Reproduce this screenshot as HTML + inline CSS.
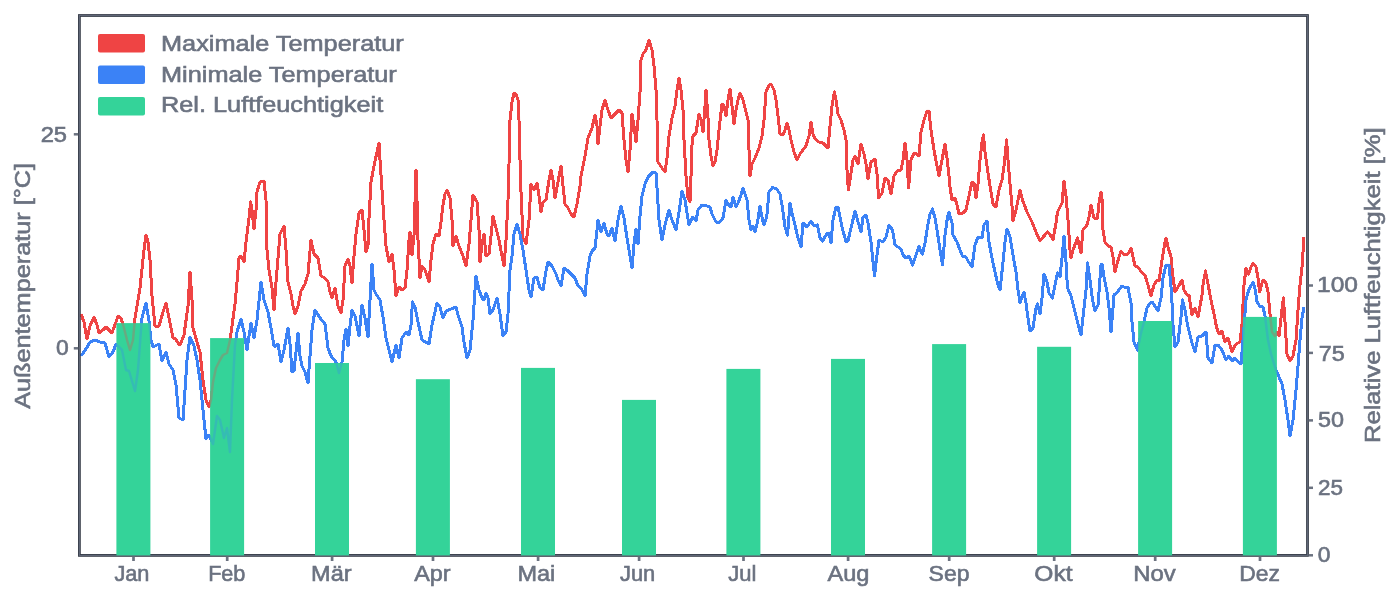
<!DOCTYPE html>
<html><head><meta charset="utf-8"><style>
html,body{margin:0;padding:0;background:#fff;width:1400px;height:600px;overflow:hidden}
svg{display:block;will-change:transform}
.t{font-family:"Liberation Sans", sans-serif;font-size:22px;fill:#6b7280;stroke:#6b7280;stroke-width:0.6px}
</style></head><body>
<svg width="1400" height="600" viewBox="0 0 1400 600">
<rect x="0" y="0" width="1400" height="600" fill="#ffffff"/>
<g fill="none" stroke-linejoin="round" stroke-width="3.0" shape-rendering="crispEdges"><polyline points="81,314 84,322 87,339 90,326 94,317 97,325 99,333 103,330 106,327 109,330 112,333 116,322 118,316 121,318 124,328 127,340 130,350 133,340 135,318 140,288 144,250 146,235 148,242 150,260 152,296 155,326 159,326 163,312 166,303 169,318 173,338 175,338 178,343 180,345 184,335 188,306 190,272 192,300 193,328 197,342 200,352 203,380 206,400 209,407 211,400 213,382 216,368 220,360 223,355 227,353 230,340 232,326 235,304 237,282 239,258 241,256 244,262 246,242 249,218 250.6,202 252,210 254,229 256,210 257,192 260,182 264,181 266,200 267,250 269,270 272,288 274,310 276,282 277,270 280,234 284,226 286,250 288,282 291,294 293,306 295,314 298,306 301,291 305,284 308,274 311,240 314,254 318,258 321,276 325,278 328,282 330,292 332,298 335,288 338,306 341,313 343,300 345,266 348,259 350,266 352,283 354,256 356,234 359,213 362,210 364,230 366,252 368,246 369,218 371,182 374,166 377,152 379,143 380,160 382,190 384,220 386,246 389,262 392,254 394,270 396,296 399,287 402,290 405,288 407,270 409,240 410,232 412,255 414,236 416,170 417,200 418,240 420,278 422,266 425,270 429,282 431,260 433,244 436,234 439,236 441,222 443,205 445,194 447,190 450,198 452,220 453,246 456,236 459,246 463,256 466,266 469,244 471,220 473,195 477,202 479,230 480,262 482,244 484,234 486,256 489,254 491,236 493,216 496,228 499,240 502,256 504,266 506,240 508,200 509,164 510,120 512,102 514,93 516,94 518,100 519,120 520,160 521,192 523,238 526,244 529,220 531,184 534,190 537,183 539,196 541,212 543,202 546,200 549,180 551,170 553,180 555,198 558,182 561,166 563,186 565,204 568,208 571,214 574,217 577,204 580,186 581,176 585,156 588,138 592,128 595,115 597,126 598,144 600,126 602,110 605,100 608,110 611,118 615,114 619,110 622,113 624,140 626,160 628,172 630,150 632,114 634,126 636,142 638,120 640,92 641,60 643,54 646,50 649,40 652,50 654,66 656,90 657,120 658,162 662,168 665,172 667,158 669,136 672,118 675,106 677,90 679,78 681,90 683,110 684,140 686,176 688,198 690,202 691,176 692,145 693,136 696,133 699,114 701,120 703,132 705,106 706,90 708,118 709,140 711,156 713,166 715,162 717,150 719,130 722,104 724,106 726,116 728,100 730,89 732,106 734,124 736,110 738,100 740,93 743,100 746,112 748,120 749,150 750,176 752,164 755,158 759,148 762,136 764,120 766,92 769,85 771,84 774,90 776,100 778,116 780,134 783,135 785,130 787,123 789,130 791,140 794,152 797,160 800,154 803,150 806,146 809,136 811,122 813,134 815,139 819,142 823,143 826,146 828,148 830,126 832,106 834.4,92 836,100 838,114 841,120 844,130 846,140 847,170 848.4,190 850,180 853,160 855,156 858,164 861,144 864,154 866,164 868,179 871,162 875,159 877,174 878.6,198 882,193 885,178 888,180 891,194 894,176 897,171 901,170 903,160 905,143 907,160 908.6,188 911,160 914,153 917,154 919,156 921,132 924,120 927,111 929,111 931,130 934,150 937,166 939,176 942,160 945,144 947,158 949,176 950,187 952,200 955,198 957,205 959,214 963,213 966,210 969,196 972,182 974,183 976,198 978,184 980,160 982,142 983.4,135 985,152 987,166 990,186 993,204 996,207 999,190 1002,180 1004,166 1006.6,140 1008,160 1010,184 1012,206 1013,221 1016,210 1018,200 1020,190 1022.5,200 1027,212 1032,222 1036,232 1040,241 1044,236 1047.5,232 1051,236 1053,240 1056,223 1057.5,212 1062,203 1064,181 1066,196 1068,220 1070,250 1071,258 1073,250 1077.5,238 1081,253 1083,230 1087,225 1089,217 1091,205 1094,218 1097.5,218 1099,203 1101,192 1102.5,203 1103,230 1105,242 1108,246 1111,247 1113,257 1115,272 1117.5,262 1121,251 1124,255 1128,254 1131,248 1133,257 1135,266 1138,267 1142,273 1145,275 1148,285 1151,296 1154,285 1157,280 1159,281 1162,260 1165,242 1166,238 1168,247 1171,257 1172.5,273 1175,292 1178,287 1182,280 1184,290 1187,295 1189,295 1192,315 1195,308 1198,317 1202,295 1203,285 1205.5,271 1208,284 1211,300 1214,314 1216.5,327 1219,334 1222,331 1225,342 1228,338 1232,352 1235,345 1238,343 1240,342 1242,324 1244,285 1246,268.5 1248.6,274 1251,267 1253,263 1256,267 1258,278 1259.6,292 1261.4,285 1263,280 1266,283 1268,292 1269.7,311 1272,332 1275,336 1277,332 1279,336 1281,318 1283.4,298 1285,322 1287,354 1290,361 1293,356 1296,340 1298,310 1300,285 1302,267 1304,237" stroke="#ef4444"/><polyline points="81,356 86,349 90,342 95,340 100,342 105,343 109,357 113,352 116,344 122,350 126,370 129,371 135,391 138,370 141,330 142,318 146,303 149,321 151,340 153,347 159,344 162,361 166,352 169,364 173,370 176,385 179,418 183,420 185,390 187,360 190,337 194,346 197,360 200,380 203,410 206,439 209,435 213,444 217,416 220,420 224,438 227,428 230,452 232,400 235,345 237,332 241,319 244,332 247,350 251,323 254,338 257,320 261,282 264,300 268,312 271,328 274,346 276,346 278,344 281,362 284,350 288,328 290,344 292,372 294,371 296,352 298,333 300,356 302,366 305,372 308,383 310,356 312,330 315,310 320,318 325,324 328,348 331,356 336,362 339,373 342,362 344,340 346,329 348,346 350,326 352,310 355,316 359,336 362,305 365,318 368,337 370,300 372,264 374,290 376,294 380,300 383,317 386,338 389,350 392,362 396,345 399,358 402,338 406,332 409,335 411,325 412.5,302 415,307 418,322 422,340 429,344 432,325 437,303 440,307 443,318 446,311 451,309 456,307 458,315 462,327 464,342 467,358 470,350 473,320 476,276 479,290 482,298 484,300 486,293 488,298 490,314 493,310 497,298 500,314 503,336 506,332 508,314 510,270 512,256 514,234 517,224 520,234 523,250 526,270 529,290 531,297 534,278 537,277 540,288 543,290 546,271 548,262 552,266 556,274 558,280 561,286 564,268 567,270 571,274 575,278 578,286 581,288 585,296 587,274 590,256 592,251 595,248 597,230 598,220 601,232 604,223 607,234 609,236 612,228 615,241 618,220 621,206 624,218 627,238 630,256 632,268 634,244 636,229 638,244 640,216 642,196 645,184 648,177 653,172 656,173 657.5,195 659,220 662,240 665,225 669,210 672,220 676,230 679,212 682,191 685,200 687,213 689,225 692,218 693,217 696,221 698,210 702,205 707,206 710,207 712,214 716,222 720,222 723,218 726,200 728,204 731,207 733,197 736,207 738,203 741,195 743,188 747,200 749,220 751,230 753,226 755,232 757.5,222 760,206 762.5,220 764,225 766.7,217 769,192 772.5,187.5 776.7,189 780,194 782.5,208 785,227 787.5,235 790,203 792.5,215 795,225 798,238 801,247 803,223 807,227 811,221 814,226 817.5,225 820,238 822.5,241 826.7,234 829,233 831,243 833,220 836,207 838,207 840,217 842.5,229 846,242 848,241 851,228 855,211 857.5,220 861,232 863,217 866,215 868,223 871,242 874.5,276 877,255 879,240 883,242 886,237 889,225 892.5,230 895,245 898,247 901,249 903,255 906,258 909,256 912.5,265 916,255 919,246 921,252 922.5,254 925,243 927.5,227 930,214 932.5,209 935,218 937.5,233 940,250 942.5,265 945,235 947.5,217 949,212 952,223 953,235 957,242 960,250 962.5,256 966,257 968,261 972,267 975,245 978,237 982,238 984,225 987,221 989,242 992,258 995,272 997.5,283 1000,290 1002.5,267 1005,242 1007,229 1010,237 1013,255 1016,272 1018,290 1020,302.5 1022.5,295 1024,292.5 1026,303 1028,318 1030,331 1033,328 1036,308 1037.5,304 1040,314 1042,298 1044,274 1047,282 1049,293 1052.5,298 1055,285 1057.5,273 1060,277 1062,258 1064,236 1066,262 1067.5,288 1071,296 1074,308 1077.5,322 1081,335 1083,317 1086,290 1087.5,263 1090,280 1092.5,300 1095,311 1098,305 1101,265 1102,264 1104,277 1107,292 1109,308 1111,332 1113,308 1114,295 1117.5,292 1122,286 1125,287.5 1128,287.5 1131,303 1132,322 1134,342 1137.5,350 1141,333 1144,322 1147,308 1150,303 1152.5,302.5 1156,308 1158,311 1161,298 1163,278 1166,265 1169,265 1171,287 1172.5,310 1173,325 1175,347 1178,342 1181,317 1182.5,300 1185,310 1187.5,325 1192,343 1195,352 1198,337 1202,336 1206,332 1208,358 1212,363 1215,345 1218,345 1222,350 1226,360 1229,356 1232,361 1235,358 1238,362 1241,364 1243,340 1246,300 1248.6,290.5 1253,282 1255,289 1257,301.5 1259.6,306 1263,307 1265,316 1268,340 1271,354 1276,370 1279,377 1282,384 1285,400 1288,420 1290,436 1293,420 1296,390 1298,366 1300,340 1302,318 1304,307" stroke="#3b82f6"/></g>
<rect x="79.4" y="15.5" width="1228.1" height="539.9" fill="none" stroke="#2c323e" stroke-width="2.7"/>
<rect x="79.4" y="15.5" width="1228.1" height="539.9" fill="none" stroke="#5f6676" stroke-width="1.2"/>
<rect x="116.40" y="323.1" width="34.0" height="232.3" fill="#34d399"/>
<rect x="210.10" y="338.1" width="34.0" height="217.3" fill="#34d399"/>
<rect x="315.00" y="363.0" width="34.0" height="192.4" fill="#34d399"/>
<rect x="415.90" y="379.2" width="34.0" height="176.2" fill="#34d399"/>
<rect x="521.00" y="367.9" width="34.0" height="187.5" fill="#34d399"/>
<rect x="622.00" y="399.9" width="34.0" height="155.5" fill="#34d399"/>
<rect x="726.40" y="368.9" width="34.0" height="186.5" fill="#34d399"/>
<rect x="831.00" y="358.9" width="34.0" height="196.5" fill="#34d399"/>
<rect x="932.10" y="344.1" width="34.0" height="211.3" fill="#34d399"/>
<rect x="1037.10" y="346.8" width="34.0" height="208.6" fill="#34d399"/>
<rect x="1138.10" y="321.0" width="34.0" height="234.4" fill="#34d399"/>
<rect x="1242.90" y="316.9" width="34.0" height="238.5" fill="#34d399"/>
<g opacity="0.28" fill="none" stroke-linejoin="round" stroke-width="2.5"><polyline points="81,314 84,322 87,339 90,326 94,317 97,325 99,333 103,330 106,327 109,330 112,333 116,322 118,316 121,318 124,328 127,340 130,350 133,340 135,318 140,288 144,250 146,235 148,242 150,260 152,296 155,326 159,326 163,312 166,303 169,318 173,338 175,338 178,343 180,345 184,335 188,306 190,272 192,300 193,328 197,342 200,352 203,380 206,400 209,407 211,400 213,382 216,368 220,360 223,355 227,353 230,340 232,326 235,304 237,282 239,258 241,256 244,262 246,242 249,218 250.6,202 252,210 254,229 256,210 257,192 260,182 264,181 266,200 267,250 269,270 272,288 274,310 276,282 277,270 280,234 284,226 286,250 288,282 291,294 293,306 295,314 298,306 301,291 305,284 308,274 311,240 314,254 318,258 321,276 325,278 328,282 330,292 332,298 335,288 338,306 341,313 343,300 345,266 348,259 350,266 352,283 354,256 356,234 359,213 362,210 364,230 366,252 368,246 369,218 371,182 374,166 377,152 379,143 380,160 382,190 384,220 386,246 389,262 392,254 394,270 396,296 399,287 402,290 405,288 407,270 409,240 410,232 412,255 414,236 416,170 417,200 418,240 420,278 422,266 425,270 429,282 431,260 433,244 436,234 439,236 441,222 443,205 445,194 447,190 450,198 452,220 453,246 456,236 459,246 463,256 466,266 469,244 471,220 473,195 477,202 479,230 480,262 482,244 484,234 486,256 489,254 491,236 493,216 496,228 499,240 502,256 504,266 506,240 508,200 509,164 510,120 512,102 514,93 516,94 518,100 519,120 520,160 521,192 523,238 526,244 529,220 531,184 534,190 537,183 539,196 541,212 543,202 546,200 549,180 551,170 553,180 555,198 558,182 561,166 563,186 565,204 568,208 571,214 574,217 577,204 580,186 581,176 585,156 588,138 592,128 595,115 597,126 598,144 600,126 602,110 605,100 608,110 611,118 615,114 619,110 622,113 624,140 626,160 628,172 630,150 632,114 634,126 636,142 638,120 640,92 641,60 643,54 646,50 649,40 652,50 654,66 656,90 657,120 658,162 662,168 665,172 667,158 669,136 672,118 675,106 677,90 679,78 681,90 683,110 684,140 686,176 688,198 690,202 691,176 692,145 693,136 696,133 699,114 701,120 703,132 705,106 706,90 708,118 709,140 711,156 713,166 715,162 717,150 719,130 722,104 724,106 726,116 728,100 730,89 732,106 734,124 736,110 738,100 740,93 743,100 746,112 748,120 749,150 750,176 752,164 755,158 759,148 762,136 764,120 766,92 769,85 771,84 774,90 776,100 778,116 780,134 783,135 785,130 787,123 789,130 791,140 794,152 797,160 800,154 803,150 806,146 809,136 811,122 813,134 815,139 819,142 823,143 826,146 828,148 830,126 832,106 834.4,92 836,100 838,114 841,120 844,130 846,140 847,170 848.4,190 850,180 853,160 855,156 858,164 861,144 864,154 866,164 868,179 871,162 875,159 877,174 878.6,198 882,193 885,178 888,180 891,194 894,176 897,171 901,170 903,160 905,143 907,160 908.6,188 911,160 914,153 917,154 919,156 921,132 924,120 927,111 929,111 931,130 934,150 937,166 939,176 942,160 945,144 947,158 949,176 950,187 952,200 955,198 957,205 959,214 963,213 966,210 969,196 972,182 974,183 976,198 978,184 980,160 982,142 983.4,135 985,152 987,166 990,186 993,204 996,207 999,190 1002,180 1004,166 1006.6,140 1008,160 1010,184 1012,206 1013,221 1016,210 1018,200 1020,190 1022.5,200 1027,212 1032,222 1036,232 1040,241 1044,236 1047.5,232 1051,236 1053,240 1056,223 1057.5,212 1062,203 1064,181 1066,196 1068,220 1070,250 1071,258 1073,250 1077.5,238 1081,253 1083,230 1087,225 1089,217 1091,205 1094,218 1097.5,218 1099,203 1101,192 1102.5,203 1103,230 1105,242 1108,246 1111,247 1113,257 1115,272 1117.5,262 1121,251 1124,255 1128,254 1131,248 1133,257 1135,266 1138,267 1142,273 1145,275 1148,285 1151,296 1154,285 1157,280 1159,281 1162,260 1165,242 1166,238 1168,247 1171,257 1172.5,273 1175,292 1178,287 1182,280 1184,290 1187,295 1189,295 1192,315 1195,308 1198,317 1202,295 1203,285 1205.5,271 1208,284 1211,300 1214,314 1216.5,327 1219,334 1222,331 1225,342 1228,338 1232,352 1235,345 1238,343 1240,342 1242,324 1244,285 1246,268.5 1248.6,274 1251,267 1253,263 1256,267 1258,278 1259.6,292 1261.4,285 1263,280 1266,283 1268,292 1269.7,311 1272,332 1275,336 1277,332 1279,336 1281,318 1283.4,298 1285,322 1287,354 1290,361 1293,356 1296,340 1298,310 1300,285 1302,267 1304,237" stroke="#ef4444"/><polyline points="81,356 86,349 90,342 95,340 100,342 105,343 109,357 113,352 116,344 122,350 126,370 129,371 135,391 138,370 141,330 142,318 146,303 149,321 151,340 153,347 159,344 162,361 166,352 169,364 173,370 176,385 179,418 183,420 185,390 187,360 190,337 194,346 197,360 200,380 203,410 206,439 209,435 213,444 217,416 220,420 224,438 227,428 230,452 232,400 235,345 237,332 241,319 244,332 247,350 251,323 254,338 257,320 261,282 264,300 268,312 271,328 274,346 276,346 278,344 281,362 284,350 288,328 290,344 292,372 294,371 296,352 298,333 300,356 302,366 305,372 308,383 310,356 312,330 315,310 320,318 325,324 328,348 331,356 336,362 339,373 342,362 344,340 346,329 348,346 350,326 352,310 355,316 359,336 362,305 365,318 368,337 370,300 372,264 374,290 376,294 380,300 383,317 386,338 389,350 392,362 396,345 399,358 402,338 406,332 409,335 411,325 412.5,302 415,307 418,322 422,340 429,344 432,325 437,303 440,307 443,318 446,311 451,309 456,307 458,315 462,327 464,342 467,358 470,350 473,320 476,276 479,290 482,298 484,300 486,293 488,298 490,314 493,310 497,298 500,314 503,336 506,332 508,314 510,270 512,256 514,234 517,224 520,234 523,250 526,270 529,290 531,297 534,278 537,277 540,288 543,290 546,271 548,262 552,266 556,274 558,280 561,286 564,268 567,270 571,274 575,278 578,286 581,288 585,296 587,274 590,256 592,251 595,248 597,230 598,220 601,232 604,223 607,234 609,236 612,228 615,241 618,220 621,206 624,218 627,238 630,256 632,268 634,244 636,229 638,244 640,216 642,196 645,184 648,177 653,172 656,173 657.5,195 659,220 662,240 665,225 669,210 672,220 676,230 679,212 682,191 685,200 687,213 689,225 692,218 693,217 696,221 698,210 702,205 707,206 710,207 712,214 716,222 720,222 723,218 726,200 728,204 731,207 733,197 736,207 738,203 741,195 743,188 747,200 749,220 751,230 753,226 755,232 757.5,222 760,206 762.5,220 764,225 766.7,217 769,192 772.5,187.5 776.7,189 780,194 782.5,208 785,227 787.5,235 790,203 792.5,215 795,225 798,238 801,247 803,223 807,227 811,221 814,226 817.5,225 820,238 822.5,241 826.7,234 829,233 831,243 833,220 836,207 838,207 840,217 842.5,229 846,242 848,241 851,228 855,211 857.5,220 861,232 863,217 866,215 868,223 871,242 874.5,276 877,255 879,240 883,242 886,237 889,225 892.5,230 895,245 898,247 901,249 903,255 906,258 909,256 912.5,265 916,255 919,246 921,252 922.5,254 925,243 927.5,227 930,214 932.5,209 935,218 937.5,233 940,250 942.5,265 945,235 947.5,217 949,212 952,223 953,235 957,242 960,250 962.5,256 966,257 968,261 972,267 975,245 978,237 982,238 984,225 987,221 989,242 992,258 995,272 997.5,283 1000,290 1002.5,267 1005,242 1007,229 1010,237 1013,255 1016,272 1018,290 1020,302.5 1022.5,295 1024,292.5 1026,303 1028,318 1030,331 1033,328 1036,308 1037.5,304 1040,314 1042,298 1044,274 1047,282 1049,293 1052.5,298 1055,285 1057.5,273 1060,277 1062,258 1064,236 1066,262 1067.5,288 1071,296 1074,308 1077.5,322 1081,335 1083,317 1086,290 1087.5,263 1090,280 1092.5,300 1095,311 1098,305 1101,265 1102,264 1104,277 1107,292 1109,308 1111,332 1113,308 1114,295 1117.5,292 1122,286 1125,287.5 1128,287.5 1131,303 1132,322 1134,342 1137.5,350 1141,333 1144,322 1147,308 1150,303 1152.5,302.5 1156,308 1158,311 1161,298 1163,278 1166,265 1169,265 1171,287 1172.5,310 1173,325 1175,347 1178,342 1181,317 1182.5,300 1185,310 1187.5,325 1192,343 1195,352 1198,337 1202,336 1206,332 1208,358 1212,363 1215,345 1218,345 1222,350 1226,360 1229,356 1232,361 1235,358 1238,362 1241,364 1243,340 1246,300 1248.6,290.5 1253,282 1255,289 1257,301.5 1259.6,306 1263,307 1265,316 1268,340 1271,354 1276,370 1279,377 1282,384 1285,400 1288,420 1290,436 1293,420 1296,390 1298,366 1300,340 1302,318 1304,307" stroke="#3b82f6"/></g>
<line x1="73.8" y1="134.3" x2="78.2" y2="134.3" stroke="#6b7280" stroke-width="2.5"/>
<line x1="73.8" y1="348.3" x2="78.2" y2="348.3" stroke="#6b7280" stroke-width="2.5"/>
<line x1="1308.7" y1="555.3" x2="1313" y2="555.3" stroke="#6b7280" stroke-width="2.5"/>
<line x1="1308.7" y1="487.8" x2="1313" y2="487.8" stroke="#6b7280" stroke-width="2.5"/>
<line x1="1308.7" y1="420.4" x2="1313" y2="420.4" stroke="#6b7280" stroke-width="2.5"/>
<line x1="1308.7" y1="352.9" x2="1313" y2="352.9" stroke="#6b7280" stroke-width="2.5"/>
<line x1="1308.7" y1="285.5" x2="1313" y2="285.5" stroke="#6b7280" stroke-width="2.5"/>
<line x1="133.5" y1="556.6" x2="133.5" y2="561" stroke="#6b7280" stroke-width="2.7"/>
<line x1="227.2" y1="556.6" x2="227.2" y2="561" stroke="#6b7280" stroke-width="2.7"/>
<line x1="332.1" y1="556.6" x2="332.1" y2="561" stroke="#6b7280" stroke-width="2.7"/>
<line x1="433.0" y1="556.6" x2="433.0" y2="561" stroke="#6b7280" stroke-width="2.7"/>
<line x1="538.1" y1="556.6" x2="538.1" y2="561" stroke="#6b7280" stroke-width="2.7"/>
<line x1="639.1" y1="556.6" x2="639.1" y2="561" stroke="#6b7280" stroke-width="2.7"/>
<line x1="743.5" y1="556.6" x2="743.5" y2="561" stroke="#6b7280" stroke-width="2.7"/>
<line x1="848.1" y1="556.6" x2="848.1" y2="561" stroke="#6b7280" stroke-width="2.7"/>
<line x1="949.2" y1="556.6" x2="949.2" y2="561" stroke="#6b7280" stroke-width="2.7"/>
<line x1="1054.2" y1="556.6" x2="1054.2" y2="561" stroke="#6b7280" stroke-width="2.7"/>
<line x1="1155.2" y1="556.6" x2="1155.2" y2="561" stroke="#6b7280" stroke-width="2.7"/>
<line x1="1260.0" y1="556.6" x2="1260.0" y2="561" stroke="#6b7280" stroke-width="2.7"/>
<rect x="98" y="34.0" width="47" height="18.6" rx="2" fill="#ef4444"/>
<rect x="98" y="65.5" width="47" height="18.6" rx="2" fill="#3b82f6"/>
<rect x="98" y="97.0" width="47" height="18.6" rx="2" fill="#34d399"/>
<text id="m0" x="114.40" y="580.70" class="t" textLength="35.03" lengthAdjust="spacingAndGlyphs">Jan</text>
<text id="m1" x="208.13" y="580.70" class="t" textLength="37.28" lengthAdjust="spacingAndGlyphs">Feb</text>
<text id="m2" x="311.13" y="580.70" class="t" textLength="40.49" lengthAdjust="spacingAndGlyphs">Mär</text>
<text id="m3" x="414.19" y="580.70" class="t" textLength="36.41" lengthAdjust="spacingAndGlyphs">Apr</text>
<text id="m4" x="517.45" y="580.70" class="t" textLength="37.88" lengthAdjust="spacingAndGlyphs">Mai</text>
<text id="m5" x="620.00" y="580.70" class="t" textLength="35.25" lengthAdjust="spacingAndGlyphs">Jun</text>
<text id="m6" x="728.37" y="580.70" class="t" textLength="28.10" lengthAdjust="spacingAndGlyphs">Jul</text>
<text id="m7" x="827.40" y="580.70" class="t" textLength="42.04" lengthAdjust="spacingAndGlyphs">Aug</text>
<text id="m8" x="928.58" y="580.70" class="t" textLength="40.83" lengthAdjust="spacingAndGlyphs">Sep</text>
<text id="m9" x="1034.39" y="580.70" class="t" textLength="38.21" lengthAdjust="spacingAndGlyphs">Okt</text>
<text id="m10" x="1133.31" y="580.70" class="t" textLength="42.48" lengthAdjust="spacingAndGlyphs">Nov</text>
<text id="m11" x="1239.34" y="580.70" class="t" textLength="40.73" lengthAdjust="spacingAndGlyphs">Dez</text>
<text id="l25" x="40.70" y="141.60" class="t" textLength="26.39" lengthAdjust="spacingAndGlyphs">25</text>
<text id="l0" x="55.90" y="355.40" class="t" textLength="12.74" lengthAdjust="spacingAndGlyphs">0</text>
<text id="r100" x="1317.12" y="291.50" class="t" textLength="40.91" lengthAdjust="spacingAndGlyphs">100</text>
<text id="r75" x="1318.77" y="361.20" class="t" textLength="26.04" lengthAdjust="spacingAndGlyphs">75</text>
<text id="r50" x="1317.98" y="426.70" class="t" textLength="26.02" lengthAdjust="spacingAndGlyphs">50</text>
<text id="r25" x="1317.98" y="495.20" class="t" textLength="25.02" lengthAdjust="spacingAndGlyphs">25</text>
<text id="r0" x="1317.88" y="562.30" class="t" textLength="12.72" lengthAdjust="spacingAndGlyphs">0</text>
<text id="g0" x="160.99" y="50.70" class="t" textLength="242.81" lengthAdjust="spacingAndGlyphs">Maximale Temperatur</text>
<text id="g1" x="160.99" y="81.50" class="t" textLength="235.81" lengthAdjust="spacingAndGlyphs">Minimale Temperatur</text>
<text id="g2" x="160.99" y="111.90" class="t" textLength="222.21" lengthAdjust="spacingAndGlyphs">Rel. Luftfeuchtigkeit</text>
<text id="yl" transform="translate(29.80,408.80) rotate(-90)" class="t" textLength="245.81" lengthAdjust="spacingAndGlyphs">Außentemperatur [°C]</text>
<text id="yr" transform="translate(1379.80,443.02) rotate(-90)" class="t" textLength="315.64" lengthAdjust="spacingAndGlyphs">Relative Luftfeuchtigkeit [%]</text>
</svg>
</body></html>
